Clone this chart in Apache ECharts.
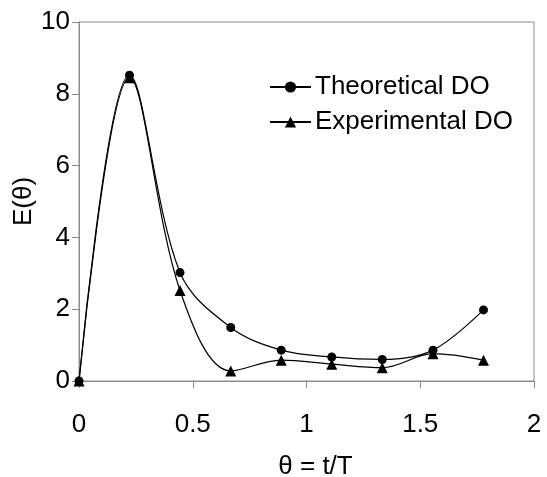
<!DOCTYPE html>
<html>
<head>
<meta charset="utf-8">
<script src="https://cdn.jsdelivr.net/npm/echarts@6/dist/echarts.min.js"></script>
<style>html,body{margin:0;padding:0;background:#fff}#c{width:547px;height:477px}</style>
</head>
<body>
<div id="c"></div>
<script>
const thetaValues = [0, 0.222, 0.444, 0.667, 0.889, 1.111, 1.333, 1.556, 1.778];
const theoreticalDO = [0, 8.52, 3.02, 1.49, 0.86, 0.67, 0.60, 0.86, 1.98];
const experimentalDO = [0, 8.45, 2.52, 0.28, 0.58, 0.47, 0.37, 0.76, 0.58];
const xTicks = [0, 0.5, 1, 1.5, 2];
const yTicks = [0, 2, 4, 6, 8, 10];

const font = 'Liberation Sans, Arial, sans-serif';
const axisGray = '#8c8c8c';
const chart = echarts.init(document.getElementById('c'));
const pairs = arr => thetaValues.map((x, i) => [x, arr[i]]);
chart.setOption({
  animation: false,
  grid: { left: 79, right: 13, top: 22, bottom: 96, show: true, borderColor: axisGray, borderWidth: 1,
          containLabel: false, outerBoundsMode: 'none' },
  legend: {
    orient: 'vertical', left: 264, top: 69,
    itemWidth: 41, itemHeight: 14, itemGap: 9,
    textStyle: { fontFamily: font, fontSize: 26, color: '#000', padding: [0,0,0,-1] },
    data: ['Theoretical DO', 'Experimental DO']
  },
  xAxis: {
    type: 'value', min: xTicks[0], max: xTicks[xTicks.length-1], interval: 0.5,
    name: 'θ = t/T', nameLocation: 'middle', nameGap: 73, nameMoveOverlap: false,
    nameTextStyle: { fontFamily: font, fontSize: 26, color: '#000', padding: [0,0,0,18] },
    axisLine: { lineStyle: { color: axisGray } },
    axisTick: { show: true, length: 7, lineStyle: { color: axisGray } },
    axisLabel: { fontFamily: font, fontSize: 26, color: '#000', margin: 31 },
    splitLine: { show: false }
  },
  yAxis: {
    type: 'value', min: yTicks[0], max: yTicks[yTicks.length-1], interval: 2,
    name: 'E(θ)', nameLocation: 'middle', nameGap: 42, nameMoveOverlap: false,
    nameTextStyle: { fontFamily: font, fontSize: 26, color: '#000' },
    axisLine: { show: true, lineStyle: { color: axisGray } },
    axisTick: { show: true, length: 7, lineStyle: { color: axisGray } },
    axisLabel: { fontFamily: font, fontSize: 26, color: '#000', margin: 9 },
    splitLine: { show: false }
  },
  series: [
    {
      name: 'Theoretical DO', type: 'line', data: pairs(theoreticalDO),
      smooth: 0.35, symbol: 'circle', symbolSize: 9,
      lineStyle: { color: '#000', width: 1.2 }, itemStyle: { color: '#000' }
    },
    {
      name: 'Experimental DO', type: 'line', data: pairs(experimentalDO),
      smooth: 0.35, symbol: 'triangle', symbolSize: 11,
      lineStyle: { color: '#000', width: 1.2 }, itemStyle: { color: '#000' }
    }
  ]
});
</script>
</body>
</html>
